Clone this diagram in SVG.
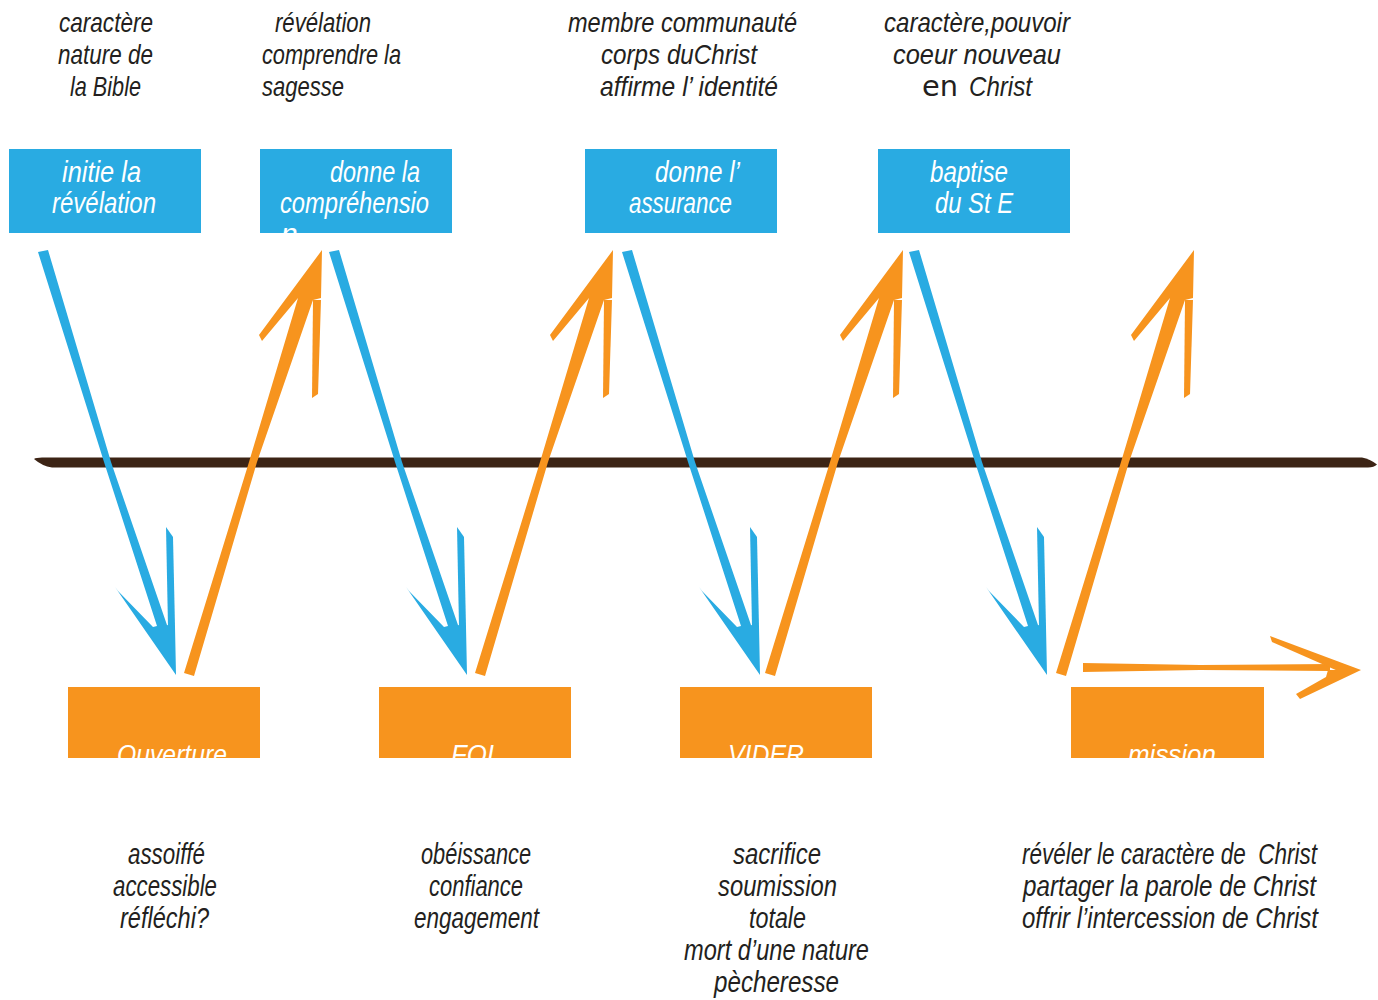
<svg xmlns="http://www.w3.org/2000/svg" xmlns:xlink="http://www.w3.org/1999/xlink" width="1378" height="1000" viewBox="0 0 1378 1000">
<style>
  .lbl { font-family: "Liberation Sans", Arial, sans-serif; font-style: italic; font-size: 28px; fill: #231f20; }
  .bot { font-family: "Liberation Sans", Arial, sans-serif; font-style: italic; font-size: 29px; fill: #231f20; }
  .bt { font-family: "Liberation Sans", Arial, sans-serif; font-style: italic; font-size: 30px; fill: #ffffff; }
  .ot { font-family: "Liberation Sans", Arial, sans-serif; font-style: italic; font-size: 28px; fill: #ffffff; }
  .blue { fill: #29abe2; }
  .orange { fill: #f7941e; }
  .line { fill: #3c2415; }
</style>
<defs>
  <g id="blueArrow">
    <polygon points="38,252 48,250 111,462 167,625 175,627 176,675 115,587 118,591 153,627 157,626 104,462"/>
    <polygon points="166,527 173,537 175,627 168,627"/>
  </g>
  <g id="orangeArrow">
    <polygon points="184,673 249,462 298,298 262,341 259,335 322,250 321,298 313,300 257,462 194,676"/>
    <polygon points="312,398 318,394 321,300 313,300"/>
  </g>
  <clipPath id="cb2"><rect x="260" y="149" width="192" height="84"/></clipPath>
  <clipPath id="co"><rect x="0" y="687" width="1378" height="71"/></clipPath>
</defs>
<rect width="1378" height="1000" fill="#ffffff"/>

<g id="top-label-1">
  <text class="lbl" x="59" y="32" textLength="94" lengthAdjust="spacingAndGlyphs">caractère</text>
  <text class="lbl" x="58" y="64" textLength="95" lengthAdjust="spacingAndGlyphs">nature de</text>
  <text class="lbl" x="70" y="96" textLength="71" lengthAdjust="spacingAndGlyphs">la Bible</text>
</g>
<g id="top-label-2">
  <text class="lbl" x="275" y="32" textLength="96" lengthAdjust="spacingAndGlyphs">révélation</text>
  <text class="lbl" x="262" y="64" textLength="139" lengthAdjust="spacingAndGlyphs">comprendre la</text>
  <text class="lbl" x="262" y="96" textLength="82" lengthAdjust="spacingAndGlyphs">sagesse</text>
</g>
<g id="top-label-3">
  <text class="lbl" x="568" y="32" textLength="229" lengthAdjust="spacingAndGlyphs">membre communauté</text>
  <text class="lbl" x="601" y="64" textLength="156" lengthAdjust="spacingAndGlyphs">corps duChrist</text>
  <text class="lbl" x="600" y="96" textLength="178" lengthAdjust="spacingAndGlyphs">affirme l’ identité</text>
</g>
<g id="top-label-4">
  <text class="lbl" x="884" y="32" textLength="186" lengthAdjust="spacingAndGlyphs">caractère,pouvoir</text>
  <text class="lbl" x="893" y="64" textLength="168" lengthAdjust="spacingAndGlyphs">coeur nouveau</text>
  <text class="lbl" x="922" y="96" textLength="36" lengthAdjust="spacingAndGlyphs" style="font-style:normal;font-family:'DejaVu Sans',sans-serif">en</text>
  <text class="lbl" x="969" y="96" textLength="63" lengthAdjust="spacingAndGlyphs">Christ</text>
</g>

<g id="blue-box-1">
  <rect class="blue" x="9" y="149" width="192" height="84"/>
  <text class="bt" x="62" y="182" textLength="79" lengthAdjust="spacingAndGlyphs">initie la</text>
  <text class="bt" x="52" y="213" textLength="104" lengthAdjust="spacingAndGlyphs">révélation</text>
</g>
<g id="blue-box-2">
  <rect class="blue" x="260" y="149" width="192" height="84"/>
  <g clip-path="url(#cb2)">
    <text class="bt" x="330" y="182" textLength="90" lengthAdjust="spacingAndGlyphs">donne la</text>
    <text class="bt" x="280" y="213" textLength="149" lengthAdjust="spacingAndGlyphs">compréhensio</text>
    <text class="bt" x="281" y="244">n</text>
  </g>
</g>
<g id="blue-box-3">
  <rect class="blue" x="585" y="149" width="192" height="84"/>
  <text class="bt" x="655" y="182" textLength="85" lengthAdjust="spacingAndGlyphs">donne l’</text>
  <text class="bt" x="629" y="213" textLength="103" lengthAdjust="spacingAndGlyphs">assurance</text>
</g>
<g id="blue-box-4">
  <rect class="blue" x="878" y="149" width="192" height="84"/>
  <text class="bt" x="930" y="182" textLength="78" lengthAdjust="spacingAndGlyphs">baptise</text>
  <text class="bt" x="935" y="213" textLength="78" lengthAdjust="spacingAndGlyphs">du St E</text>
</g>

<g id="timeline">
  <path class="line" d="M34,459 Q36,457.5 42,457.5 L1362,457.5 Q1370,459 1377,464.5 Q1374,467.5 1368,467.5 L52,467.5 Q42,466 34,459 Z"/>
</g>

<g id="connectors">
  <use xlink:href="#blueArrow" class="blue"/>
  <use xlink:href="#blueArrow" class="blue" transform="translate(291,0)"/>
  <use xlink:href="#blueArrow" class="blue" transform="translate(584,0)"/>
  <use xlink:href="#blueArrow" class="blue" transform="translate(871,0)"/>
  <use xlink:href="#orangeArrow" class="orange"/>
  <use xlink:href="#orangeArrow" class="orange" transform="translate(291,0)"/>
  <use xlink:href="#orangeArrow" class="orange" transform="translate(581,0)"/>
  <use xlink:href="#orangeArrow" class="orange" transform="translate(872,0)"/>
  <g class="orange">
    <polygon points="1083,663 1200,665 1330,664 1330,671 1200,670 1083,672"/>
    <polygon points="1270,636 1361,670 1338,671 1272,642"/>
    <polygon points="1361,670 1300,699 1296,694 1326,677 1328,670"/>
  </g>
</g>

<g id="orange-box-1">
  <rect class="orange" x="68" y="687" width="192" height="71"/>
  <text class="ot" clip-path="url(#co)" x="117" y="764" textLength="110" lengthAdjust="spacingAndGlyphs">Ouverture</text>
</g>
<g id="orange-box-2">
  <rect class="orange" x="379" y="687" width="192" height="71"/>
  <text class="ot" clip-path="url(#co)" x="451" y="764" textLength="43" lengthAdjust="spacingAndGlyphs">FOI</text>
</g>
<g id="orange-box-3">
  <rect class="orange" x="680" y="687" width="192" height="71"/>
  <text class="ot" clip-path="url(#co)" x="728" y="764" textLength="76" lengthAdjust="spacingAndGlyphs">VIDER</text>
</g>
<g id="orange-box-4">
  <rect class="orange" x="1071" y="687" width="193" height="71"/>
  <text class="ot" clip-path="url(#co)" x="1128" y="764" textLength="88" lengthAdjust="spacingAndGlyphs">mission</text>
</g>

<g id="bottom-label-1">
  <text class="bot" x="128" y="864" textLength="77" lengthAdjust="spacingAndGlyphs">assoiffé</text>
  <text class="bot" x="113" y="896" textLength="104" lengthAdjust="spacingAndGlyphs">accessible</text>
  <text class="bot" x="120" y="928" textLength="89" lengthAdjust="spacingAndGlyphs">réfléchi?</text>
</g>
<g id="bottom-label-2">
  <text class="bot" x="421" y="864" textLength="110" lengthAdjust="spacingAndGlyphs">obéissance</text>
  <text class="bot" x="429" y="896" textLength="94" lengthAdjust="spacingAndGlyphs">confiance</text>
  <text class="bot" x="414" y="928" textLength="125" lengthAdjust="spacingAndGlyphs">engagement</text>
</g>
<g id="bottom-label-3">
  <text class="bot" x="733" y="864" textLength="88" lengthAdjust="spacingAndGlyphs">sacrifice</text>
  <text class="bot" x="718" y="896" textLength="119" lengthAdjust="spacingAndGlyphs">soumission</text>
  <text class="bot" x="749" y="928" textLength="57" lengthAdjust="spacingAndGlyphs">totale</text>
  <text class="bot" x="684" y="960" textLength="185" lengthAdjust="spacingAndGlyphs">mort d’une nature</text>
  <text class="bot" x="714" y="992" textLength="125" lengthAdjust="spacingAndGlyphs">pècheresse</text>
</g>
<g id="bottom-label-4">
  <text class="bot" x="1022" y="864" textLength="295" lengthAdjust="spacingAndGlyphs">révéler le caractère de&#160; Christ</text>
  <text class="bot" x="1023" y="896" textLength="293" lengthAdjust="spacingAndGlyphs">partager la parole de Christ</text>
  <text class="bot" x="1022" y="928" textLength="296" lengthAdjust="spacingAndGlyphs">offrir l’intercession de Christ</text>
</g>
</svg>
